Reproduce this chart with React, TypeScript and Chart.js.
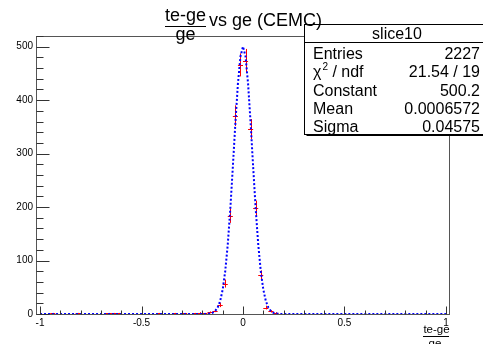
import React, { useEffect, useRef } from "react";
import { Chart, registerables } from "chart.js";

Chart.register(...registerables);

// Histogram bins (centers) with non-zero content and their counts
const binCenters = [
  -0.9375, -0.8125, -0.6625, -0.6375, -0.6125, -0.4125, -0.3375, -0.2875, -0.2375, -0.2125,
  -0.1875, -0.1625, -0.1375, -0.1125, -0.0875, -0.0625, -0.0375, -0.0125,
  0.0125, 0.0375, 0.0625, 0.0875, 0.1125, 0.1375, 0.1625,
];
const binCounts = [
  1, 1, 1, 1, 1, 1, 1, 1, 1, 2,
  1, 3, 6, 17, 57, 184, 371, 466,
  474, 346, 198, 73, 12, 5, 2,
];
const binHalfWidth = 0.0125;

// Fitted gaussian curve
const fitX = [
  -1, -0.2, -0.1875, -0.175, -0.1625, -0.15, -0.1375, -0.125, -0.1125, -0.1, -0.0875, -0.075,
  -0.0625, -0.05, -0.0375, -0.025, -0.0125, 0, 0.0125, 0.025, 0.0375, 0.05, 0.0625, 0.075,
  0.0875, 0.1, 0.1125, 0.125, 0.1375, 0.15, 0.1625, 0.175, 0.1875, 0.2, 1,
];
const fitY = [
  0, 0.0, 0.1, 0.3, 0.9, 2.3, 5.5, 12.0, 24.3, 45.9, 80.3, 130.5,
  196.7, 275.3, 357.5, 430.8, 481.7, 500.2, 481.7, 430.8, 357.5, 275.3, 196.7, 130.5,
  80.3, 45.9, 24.3, 12.0, 5.5, 2.3, 0.9, 0.3, 0.1, 0.0, 0,
];

const xTickValues = [-1, -0.5, 0, 0.5, 1];
const xMinorStep = 0.1;
const yTickValues = [0, 100, 200, 300, 400, 500];
const yMinorStep = 20;

const statsTitle = "slice10";
const statsLabels = ["Entries", "χ2 / ndf", "Constant", "Mean", "Sigma"];
const statsValues = ["2227", "21.54 / 19", "500.2", "0.0006572", "0.04575"];

const titleNum = "te-ge";
const titleDen = "ge";
const titleRest = "vs ge (CEMC)";

const FONT = "'Liberation Sans', Arial, Helvetica, sans-serif";

const rootPlugin = {
  id: "rootDecor",
  beforeDatasetsDraw(chart: any) {
    const { ctx } = chart;
    const x = chart.scales.x;
    const y = chart.scales.y;
    const pts = chart.data.datasets[0].data as { x: number; y: number }[];
    ctx.save();
    ctx.strokeStyle = "#ff0000";
    ctx.lineWidth = 1;
    ctx.beginPath();
    pts.forEach((p) => {
      const err = Math.sqrt(p.y);
      const px = Math.round(x.getPixelForValue(p.x)) + 0.5;
      const py = Math.round(y.getPixelForValue(p.y)) + 0.5;
      const xl = x.getPixelForValue(p.x - binHalfWidth);
      const xr = x.getPixelForValue(p.x + binHalfWidth);
      const yt = y.getPixelForValue(p.y + err);
      const yb = y.getPixelForValue(Math.max(0, p.y - err));
      ctx.moveTo(xl, py);
      ctx.lineTo(xr, py);
      ctx.moveTo(px, yt);
      ctx.lineTo(px, yb);
    });
    ctx.stroke();
    ctx.restore();
  },
  afterDraw(chart: any) {
    const { ctx, chartArea } = chart;
    const x = chart.scales.x;
    const y = chart.scales.y;
    const L = Math.round(chartArea.left) - 0.5;
    const R = Math.round(chartArea.right) + 0.5;
    const T = Math.round(chartArea.top) + 0.5;
    const B = Math.round(chartArea.bottom) + 0.5;
    ctx.save();
    // frame
    ctx.strokeStyle = "#555";
    ctx.lineWidth = 1;
    ctx.strokeRect(L, T, R - L, B - T);

    // ticks
    ctx.strokeStyle = "#333";
    ctx.beginPath();
    for (let v = 0; v <= y.max + 1e-9; v += yMinorStep) {
      const py = Math.round(y.getPixelForValue(v)) + 0.5;
      const major = yTickValues.includes(Math.round(v));
      ctx.moveTo(L, py);
      ctx.lineTo(L + (major ? 13 : 7), py);
    }
    for (let i = -10; i <= 10; i++) {
      const v = i * xMinorStep;
      const px = Math.round(x.getPixelForValue(v)) + 0.5;
      const major = i % 5 === 0;
      ctx.moveTo(px, B);
      ctx.lineTo(px, B - (major ? 8 : 4));
    }
    ctx.stroke();

    // stats box
    const bx = 304.5, by = 24.5, bw = 190, bh = 110;
    ctx.fillStyle = "#fff";
    ctx.fillRect(bx, by, bw, bh);
    ctx.strokeStyle = "#000";
    ctx.strokeRect(bx, by, bw, bh);
    ctx.fillStyle = "#000";
    ctx.fillRect(bx + 2, by + bh, bw, 1.5);
    ctx.beginPath();
    ctx.moveTo(bx, 42.5);
    ctx.lineTo(bx + bw, 42.5);
    ctx.stroke();

    ctx.fillStyle = "#000";
    ctx.textBaseline = "alphabetic";
    ctx.font = `16px ${FONT}`;
    ctx.textAlign = "center";
    ctx.fillText(statsTitle, 397, 39);
    const baselines = [58.5, 77, 95.5, 114, 131.5];
    statsLabels.forEach((lab, i) => {
      ctx.textAlign = "left";
      ctx.font = `16px ${FONT}`;
      if (lab.startsWith("χ2")) {
        ctx.fillText("χ", 313, baselines[i]);
        let cx = 313 + ctx.measureText("χ").width + 1;
        ctx.font = `10px ${FONT}`;
        ctx.fillText("2", cx, baselines[i] - 7);
        cx += ctx.measureText("2").width;
        ctx.font = `16px ${FONT}`;
        ctx.fillText(lab.slice(2), cx, baselines[i]);
      } else {
        ctx.fillText(lab, 313, baselines[i]);
      }
      ctx.textAlign = "right";
      ctx.fillText(statsValues[i], 480, baselines[i]);
    });

    // title
    ctx.font = `18px ${FONT}`;
    ctx.textAlign = "center";
    ctx.fillText(titleNum, 185.5, 21);
    ctx.fillText(titleDen, 185.5, 39.5);
    ctx.beginPath();
    ctx.lineWidth = 1.2;
    ctx.moveTo(165, 26.5);
    ctx.lineTo(206, 26.5);
    ctx.stroke();
    ctx.textAlign = "left";
    ctx.fillText(titleRest, 209, 26);

    // x axis title
    ctx.font = `11.5px ${FONT}`;
    ctx.textAlign = "center";
    ctx.fillText(titleNum, 436.5, 332.5);
    ctx.fillText(titleDen, 435, 347);
    ctx.beginPath();
    ctx.lineWidth = 1;
    ctx.moveTo(423, 336.5);
    ctx.lineTo(449, 336.5);
    ctx.stroke();
    ctx.restore();
  },
};

export default function App() {
  const ref = useRef<HTMLCanvasElement>(null);
  useEffect(() => {
    const canvas = ref.current;
    if (!canvas) return;
    const tickFont = { family: FONT, size: 10 };
    const chart = new Chart(canvas, {
      type: "scatter",
      data: {
        datasets: [
          {
            label: statsTitle,
            data: binCenters.map((bx, i) => ({ x: bx, y: binCounts[i] })),
            pointRadius: 0,
            showLine: false,
            borderColor: "#ff0000",
            backgroundColor: "#ff0000",
          },
          {
            label: "fit",
            data: fitX.map((fx, i) => ({ x: fx, y: fitY[i] })),
            showLine: true,
            pointRadius: 0,
            borderColor: "#0000ff",
            borderWidth: 2,
            borderDash: [2, 2],
            tension: 0,
            fill: false,
          },
        ],
      },
      options: {
        responsive: false,
        animation: false,
        devicePixelRatio: 1,
        layout: { padding: { left: 0, top: 36, right: 34, bottom: 0 } },
        plugins: { legend: { display: false }, tooltip: { enabled: false }, title: { display: false } },
        scales: {
          x: {
            type: "linear",
            min: -1.015,
            max: 1.015,
            afterBuildTicks: (s: any) => {
              s.ticks = xTickValues.map((v) => ({ value: v }));
            },
            afterFit: (s: any) => {
              s.height = 30;
            },
            grid: { display: false, drawTicks: false },
            border: { display: false },
            ticks: {
              padding: 3,
              font: tickFont,
              color: "#000",
              maxRotation: 0,
              autoSkip: false,
              callback: (v: any) => String(v),
            },
          },
          y: {
            type: "linear",
            min: 0,
            max: 520,
            afterBuildTicks: (s: any) => {
              s.ticks = yTickValues.map((v) => ({ value: v }));
            },
            afterFit: (s: any) => {
              s.width = 37;
            },
            grid: { display: false, drawTicks: false },
            border: { display: false },
            ticks: {
              padding: 4,
              font: tickFont,
              color: "#000",
              autoSkip: false,
              callback: (v: any) => String(v),
            },
          },
        },
      },
      plugins: [rootPlugin],
    } as any);
    return () => chart.destroy();
  }, []);
  return (
    <div style={{ position: "fixed", left: 0, top: 0, width: 483, height: 344, background: "#fff" }}>
      <canvas ref={ref} width={483} height={344} style={{ width: 483, height: 344, display: "block" }} />
    </div>
  );
}
